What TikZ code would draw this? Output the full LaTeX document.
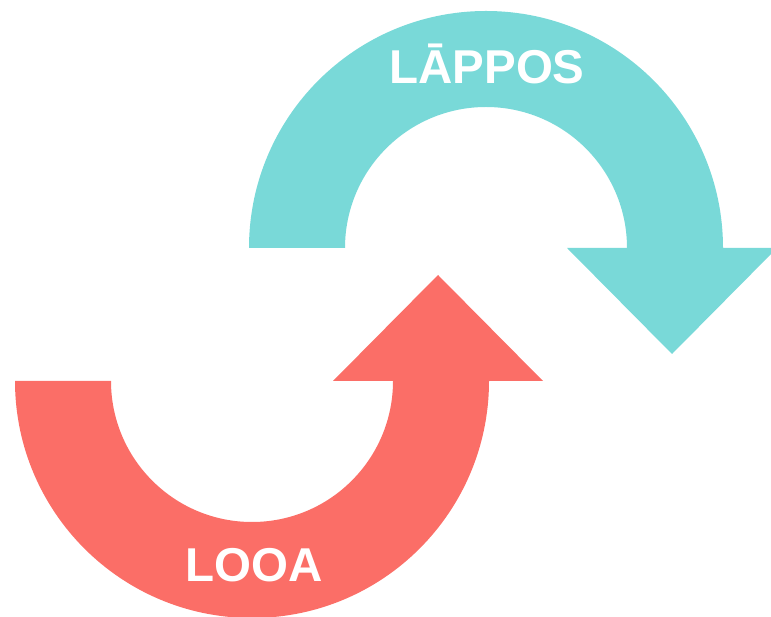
\documentclass[tikz,border=0pt]{standalone}
\usepackage{fontspec}
\setmainfont{Liberation Sans}
\definecolor{tealarrow}{RGB}{121,217,216}
\definecolor{redarrow}{RGB}{251,110,103}
\begin{document}
\begin{tikzpicture}[x=1pt,y=1pt,
  label/.style={text=white,font=\fontsize{47.5}{50}\selectfont\bfseries,inner sep=0pt,anchor=base}]
\useasboundingbox (0,0) rectangle (771,616);
\clip (0,0) rectangle (771,616);
% teal arrow (top)
\fill[tealarrow] (345,368) -- (249,368) arc[start angle=180,end angle=0,radius=237]
  -- (777,368) -- (672,262) -- (567,368) -- (627,368)
  arc[start angle=0,end angle=180,radius=141] -- cycle;
% red arrow (bottom)
\fill[redarrow] (111,235) -- (15,235) arc[start angle=180,end angle=360,radius=237]
  -- (543,235) -- (438,341) -- (333,235) -- (393,235)
  arc[start angle=0,end angle=-180,radius=141] -- cycle;
\node[label] (top) at (487,532) {LĀPPOS};
\node[label] (bottom) at (254,35) {LOOA};
\end{tikzpicture}
\end{document}
